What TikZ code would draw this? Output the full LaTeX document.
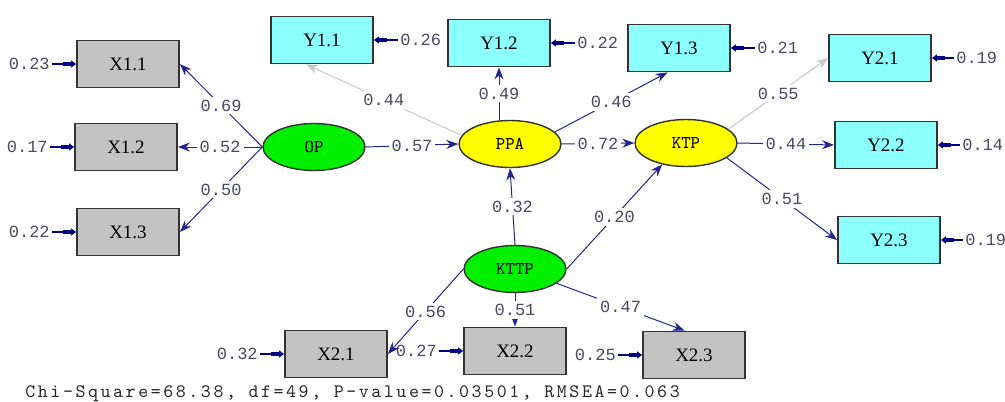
\documentclass[tikz,border=0pt]{standalone}
\usepackage{fontspec}
\setmainfont{Liberation Serif}
\newfontfamily\lismono{Liberation Mono}
\newfontfamily\fitmono[LetterSpace=13.5]{lmmono10-regular.otf}
\usetikzlibrary{positioning,shapes.geometric,arrows.meta}

\definecolor{pathblue}{HTML}{24248C}
\definecolor{errblue}{HTML}{000080}
\definecolor{fixgray}{HTML}{C8C8C8}
\definecolor{obsgray}{HTML}{C3C3C3}
\definecolor{obscyan}{HTML}{8CFFFF}
\definecolor{latgreen}{HTML}{00F000}
\definecolor{latyellow}{HTML}{FFFF00}
\definecolor{numtext}{HTML}{4A4A5C}

\begin{document}
\begin{tikzpicture}[%
    x=0.5pt, y=-0.5pt,
    xvar/.style={%
        draw=black!80,
        line width=0.9pt,
        fill=obsgray,
        inner sep=0pt,
        minimum width=51pt,
        minimum height=23.5pt,
        font=\fontsize{9.5}{10}\selectfont
    },
    yvar/.style={%
        xvar,
        fill=obscyan
    },
    exo/.style={%
        draw=black!80,
        line width=0.7pt,
        ellipse,
        fill=latgreen,
        inner sep=0pt,
        minimum width=51pt,
        minimum height=23.5pt,
        font=\ttfamily\fontsize{9}{10}\selectfont
    },
    endo/.style={%
        exo,
        fill=latyellow
    },
    err/.style={%
        text=numtext,
        inner sep=1pt,
        node distance=12pt,
        font=\lismono\fontsize{8.5}{9}\selectfont
    },
    coef/.style={%
        fill=white,
        text=numtext,
        inner sep=1.5pt,
        font=\lismono\fontsize{8.5}{9}\selectfont
    },
    load/.style={%
        draw=pathblue,
        line width=0.5pt,
        -{Stealth[length=6pt,width=4.5pt]}
    },
    fixload/.style={%
        load,
        draw=fixgray
    },
    errarrow/.style={%
        draw=errblue,
        line width=0.6pt,
        -{Rectangle[length=4pt,width=2pt]Triangle[length=2.5pt,width=3.5pt]}
    }
]
\useasboundingbox (0,0) rectangle (1005,401);

% Latent variables
\node[exo] (OP) at (314,147) {OP};
\node[endo] (PPA) at (510,144) {PPA};
\node[endo] (KTP) at (686,143) {KTP};
\node[exo] (KTTP) at (515,269) {KTTP};

% Indicators of OP
\node[xvar] (X11) at (128,64) {X1.1};
\node[xvar] (X12) at (126,147) {X1.2};
\node[xvar] (X13) at (128,232) {X1.3};

% Indicators of PPA
\node[yvar] (Y11) at (322,40) {Y1.1};
\node[yvar] (Y12) at (499,43) {Y1.2};
\node[yvar] (Y13) at (679,48) {Y1.3};

% Indicators of KTP
\node[yvar] (Y21) at (880,58) {Y2.1};
\node[yvar] (Y22) at (886,145) {Y2.2};
\node[yvar] (Y23) at (889,240) {Y2.3};

% Indicators of KTTP
\node[xvar] (X21) at (336,354) {X2.1};
\node[xvar] (X22) at (515,351) {X2.2};
\node[xvar] (X23) at (694,355) {X2.3};

% Error variances
\node[err, left=of X11] (eX11) {0.23};
\node[err, left=of X12] (eX12) {0.17};
\node[err, left=of X13] (eX13) {0.22};
\node[err, right=of Y11] (eY11) {0.26};
\node[err, right=of Y12] (eY12) {0.22};
\node[err, right=of Y13] (eY13) {0.21};
\node[err, right=11pt of Y21] (eY21) {0.19};
\node[err, right=11pt of Y22] (eY22) {0.14};
\node[err, right=11pt of Y23] (eY23) {0.19};
\node[err, left=of X21] (eX21) {0.32};
\node[err, left=of X22] (eX22) {0.27};
\node[err, left=of X23] (eX23) {0.25};

\foreach \v in {X11,X12,X13,Y11,Y12,Y13,Y21,Y22,Y23,X21,X22,X23}
    \draw[errarrow] (e\v) -- (\v);

% Loadings
\draw[load] (OP.west) -- node[coef] {0.69} (X11.east);
\draw[load] (OP.west) -- node[coef] {0.52} (X12.east);
\draw[load] (OP.west) -- node[coef] {0.50} (X13.east);

\draw[fixload] (PPA.170) -- node[coef] {0.44} (Y11.237);
\draw[load] (PPA.north -| Y12.south) -- node[coef] {0.49} (Y12.south);
\draw[load] (PPA.15) -- node[coef] {0.46} (Y13.245);

\draw[fixload] (KTP.18) -- node[coef] {0.55} (Y21.west);
\draw[load] (KTP.east) -- node[coef] {0.44} (Y22.west);
\draw[load] (KTP.-20) -- node[coef] {0.51} (Y23.west);

\draw[load] (KTTP.west) -- node[coef] {0.56} (X21.east);
\draw[load] (KTTP.south) -- node[coef] {0.51} (X22.north);
\draw[load] (KTTP.-19) -- node[coef] {0.47} (X23.111);

% Structural paths
\draw[load] (OP.east) -- node[coef] {0.57} (PPA.west);
\draw[load] (PPA.east) -- node[coef] {0.72} (KTP.west);
\draw[load] (KTTP.north) -- node[coef] {0.32} (PPA.south);
\draw[load] (KTTP.east) -- node[coef] {0.20} (KTP.222);

% Fit statistics
\node[anchor=base west, inner sep=0pt, text=black!85,
      font=\fitmono\fontsize{9.5}{10}\selectfont]
    (fit) at (25,397)
    {Chi-Square=68.38, df=49, P-value=0.03501, RMSEA=0.063};

\end{tikzpicture}
\end{document}
